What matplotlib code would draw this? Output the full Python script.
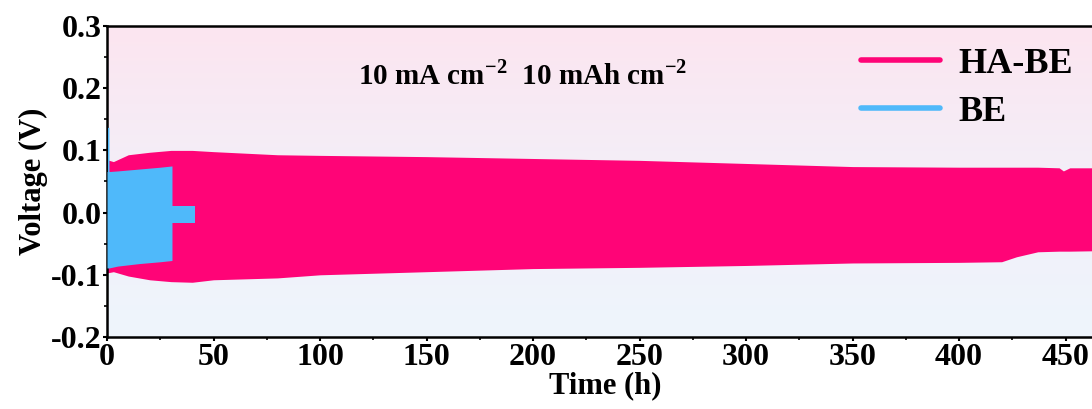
import numpy as np
import matplotlib.pyplot as plt
from matplotlib.lines import Line2D
from matplotlib.colors import LinearSegmentedColormap

plt.rcParams['font.family'] = ['Liberation Serif', 'DejaVu Serif']
plt.rcParams['font.weight'] = 'bold'
plt.rcParams['mathtext.fontset'] = 'custom'
plt.rcParams['mathtext.rm'] = 'Liberation Serif:bold'
plt.rcParams['mathtext.bf'] = 'Liberation Serif:bold'

# HA-BE voltage envelope (upper / lower bounds of the cycling band)
habe_t = [0, 3, 10, 20, 30, 40, 50, 80, 100, 150, 200, 250, 300, 350, 400, 420,
          427, 437, 447, 449, 452, 470]
habe_top = [0.085, 0.082, 0.093, 0.097, 0.100, 0.100, 0.098, 0.093, 0.092, 0.090,
            0.087, 0.084, 0.079, 0.074, 0.073, 0.073, 0.073, 0.073, 0.072, 0.067,
            0.072, 0.072]
habe_bot = [-0.097, -0.095, -0.102, -0.108, -0.111, -0.112, -0.108, -0.105, -0.100,
            -0.095, -0.090, -0.088, -0.085, -0.081, -0.080, -0.079, -0.071, -0.063,
            -0.062, -0.062, -0.062, -0.061]

# BE voltage envelope
be_t = [0, 0.2, 0.25, 0.9, 0.95, 5, 15, 25, 30.5]
be_top = [0.066, 0.066, 0.137, 0.137, 0.066, 0.067, 0.070, 0.073, 0.075]
be_bot = [-0.089, -0.089, -0.089, -0.089, -0.089, -0.086, -0.082, -0.079, -0.077]
be_tail_t = [30.5, 41.3]
be_tail_top = [0.010, 0.010]
be_tail_bot = [-0.017, -0.017]

pink = '#FF0477'
blue = '#4FB9FA'

fig = plt.figure(figsize=(10.92, 4.09), dpi=100)
ax = fig.add_axes([107 / 1092, 1 - 337 / 409, 996 / 1092, 311 / 409])

# soft background gradient, pink at top to pale blue at bottom
cmap = LinearSegmentedColormap.from_list('bg', ['#EEF5FC', '#F3EFF8', '#FCE5F0'])
grad = np.linspace(0, 1, 256).reshape(-1, 1)
ax.imshow(grad, aspect='auto', cmap=cmap, origin='lower',
          extent=[0, 467.6, -0.2, 0.3], zorder=0)

ax.fill_between(habe_t, habe_bot, habe_top, color=pink, lw=0, zorder=2)
ax.fill_between(be_t, be_bot, be_top, color=blue, lw=0, zorder=3)
ax.fill_between(be_tail_t, be_tail_bot, be_tail_top, color=blue, lw=0, zorder=3)

ax.set_xlim(0, 467.6)
ax.set_ylim(-0.2, 0.3)
ax.set_xticks(np.arange(0, 451, 50))
ax.set_xticks(np.arange(25, 470, 50), minor=True)
ax.set_yticks([-0.2, -0.1, 0.0, 0.1, 0.2, 0.3])
ax.set_yticks([-0.15, -0.05, 0.05, 0.15, 0.25], minor=True)
ax.set_yticklabels(['-0.2', '-0.1', '0.0', '0.1', '0.2', '0.3'])
ax.tick_params(which='major', direction='out', length=3, width=1.5, labelsize=23, pad=1)
ax.tick_params(which='minor', direction='out', length=2, width=1.2)
for lab in ax.get_xticklabels() + ax.get_yticklabels():
    lab.set_fontweight('bold')
for s in ['left', 'bottom', 'top']:
    ax.spines[s].set_linewidth(1.8)
ax.spines['right'].set_visible(False)

ax.set_xlabel('Time (h)', fontsize=22, fontweight='bold', labelpad=0)
ax.set_ylabel('Voltage (V)', fontsize=22, fontweight='bold', labelpad=2)

ax.text(195, 0.221, r'10 mA cm$^{-2}$  10 mAh cm$^{-2}$', fontsize=21,
        fontweight='bold', ha='center', va='center')

handles = [Line2D([], [], color=pink, lw=4, solid_capstyle='round'),
           Line2D([], [], color=blue, lw=4, solid_capstyle='round')]
ax.legend(handles, ['HA-BE', 'BE'], loc='upper left', bbox_to_anchor=(0.724, 1.035),
          frameon=False, prop={'size': 26, 'weight': 'bold'}, handlelength=2.2,
          handletextpad=0.5, labelspacing=0.4)

fig.savefig('out.png', dpi=100)
